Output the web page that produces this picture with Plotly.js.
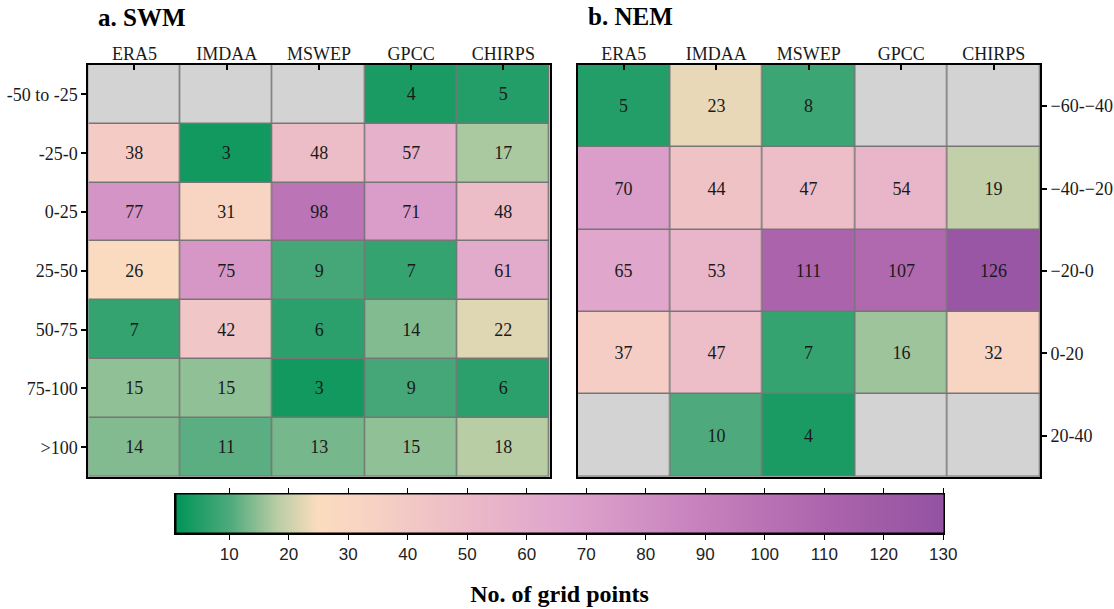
<!DOCTYPE html>
<html>
<head>
<meta charset="utf-8">
<script src="https://cdn.plot.ly/plotly-3.0.1.min.js"></script>
<style>
  html, body { margin: 0; padding: 0; background: #fff; }
  #chart { width: 1114px; height: 609px; }
</style>
</head>
<body>
<div id="chart"></div>
<script>
// Products compared in both panels
const products = ['ERA5', 'IMDAA', 'MSWEP', 'GPCC', 'CHIRPS'];

// a. SWM — bias classes and grid-point counts (null = no grid points)
const swmClasses = ['-50 to -25', '-25-0', '0-25', '25-50', '50-75', '75-100', '>100'];
const swmCounts = [
  [null, null, null, 4, 5],
  [38, 3, 48, 57, 17],
  [77, 31, 98, 71, 48],
  [26, 75, 9, 7, 61],
  [7, 42, 6, 14, 22],
  [15, 15, 3, 9, 6],
  [14, 11, 13, 15, 18]
];

// b. NEM — bias classes and grid-point counts
const nemClasses = ['\u221260-\u221240', '\u221240-\u221220', '\u221220-0', '0-20', '20-40'];
const nemCounts = [
  [5, 23, 8, null, null],
  [70, 44, 47, 54, 19],
  [65, 53, 111, 107, 126],
  [37, 47, 7, 16, 32],
  [null, 10, 4, null, null]
];

// Colour bar ticks
const barTicks = [10, 20, 30, 40, 50, 60, 70, 80, 90, 100, 110, 120, 130];
const barMin = 1, barMax = 130;

const W = 1114, H = 609;
const px = v => v / W;            // horizontal pixel -> paper
const py = v => 1 - v / H;        // vertical pixel -> paper

const serif = 'Liberation Serif, Times New Roman, serif';
const scale = [
  [0.000, 'rgb(0,148,88)'],
  [0.070, 'rgb(78,170,124)'],
  [0.132, 'rgb(185,205,165)'],
  [0.186, 'rgb(252,220,190)'],
  [0.264, 'rgb(246,208,196)'],
  [0.380, 'rgb(235,186,200)'],
  [0.512, 'rgb(222,163,204)'],
  [0.674, 'rgb(200,131,190)'],
  [0.845, 'rgb(172,101,172)'],
  [1.000, 'rgb(148,82,163)']
];

// cells with no grid points are shaded light grey
const missingMask = z => z.map(r => r.map(v => (v === null ? 1 : null)));

function panel(z, rows, xa, ya) {
  return [
    {
      type: 'heatmap', x: products, y: rows, z: missingMask(z),
      xaxis: xa, yaxis: ya, colorscale: [[0, '#d3d3d3'], [1, '#d3d3d3']],
      showscale: false, xgap: 1.5, ygap: 1.5, hoverinfo: 'skip'
    },
    {
      type: 'heatmap', x: products, y: rows, z: z,
      xaxis: xa, yaxis: ya, coloraxis: 'coloraxis',
      xgap: 1.5, ygap: 1.5,
      texttemplate: '%{z}', textfont: { family: serif, size: 18, color: '#1a1a1a' },
      hoverongaps: false
    }
  ];
}

const data = [
  ...panel(swmCounts, swmClasses, 'x', 'y'),
  ...panel(nemCounts, nemClasses, 'x2', 'y2'),
  { type: 'scatter', x: [], y: [], xaxis: 'x3', yaxis: 'y3', showlegend: false, hoverinfo: 'skip' }
];

const catX = (domain, anchor) => ({
  domain, anchor, side: 'top', type: 'category',
  ticks: 'inside', ticklen: 5, tickwidth: 2, tickcolor: '#000',
  ticklabelstandoff: -4,
  showline: true, linewidth: 2, linecolor: '#000', mirror: true,
  showgrid: false, zeroline: false, automargin: false,
  tickfont: { family: serif, size: 18, color: '#1a1a1a' }, fixedrange: true
});
const catY = (domain, anchor, side) => ({
  domain, anchor, side, type: 'category', autorange: 'reversed',
  ticks: 'outside', ticklen: 5, tickwidth: 2, tickcolor: '#000',
  showline: true, linewidth: 2, linecolor: '#000', mirror: true,
  showgrid: false, zeroline: false, automargin: false,
  tickfont: { family: serif, size: 18, color: '#1a1a1a' }, fixedrange: true
});

const gridTop = 65, gridBottom = 476.7;
const bar = { l: 175.7, r: 943.3, t: 494.3, b: 533 };

const layout = {
  width: W, height: H,
  margin: { l: 0, r: 0, t: 0, b: 0, autoexpand: false },
  paper_bgcolor: '#fff', plot_bgcolor: '#767676',
  showlegend: false,
  xaxis: catX([px(88.3), px(549.5)], 'y'),
  yaxis: catY([py(gridBottom), py(gridTop)], 'x', 'left'),
  xaxis2: catX([px(577.5), px(1040)], 'y2'),
  yaxis2: catY([py(gridBottom), py(gridTop)], 'x2', 'right'),
  xaxis3: {
    domain: [px(bar.l), px(bar.r)], anchor: 'y3', range: [barMin, barMax],
    tickvals: barTicks, ticktext: barTicks.map(String),
    ticks: 'outside', ticklen: 5, tickwidth: 1, tickcolor: '#000',
    showline: true, linewidth: 1.5, linecolor: '#000', mirror: 'ticks',
    showgrid: false, zeroline: false, automargin: false, fixedrange: true,
    tickfont: { family: 'Liberation Sans, Arial, sans-serif', size: 17, color: '#222' },
    title: { text: '<b>No. of grid points</b>', standoff: 22,
             font: { family: serif, size: 24, color: '#000' } }
  },
  yaxis3: {
    domain: [py(bar.b), py(bar.t)], anchor: 'x3', range: [0, 1],
    showline: true, linewidth: 1.5, linecolor: '#000', mirror: true,
    ticks: '', showticklabels: false, showgrid: false, zeroline: false,
    automargin: false, fixedrange: true
  },
  coloraxis: {
    cmin: barMin, cmax: barMax, colorscale: scale,
    colorbar: {
      orientation: 'h',
      thicknessmode: 'pixels', thickness: bar.b - bar.t,
      lenmode: 'pixels', len: bar.r - bar.l,
      x: px((bar.l + bar.r) / 2), xanchor: 'center',
      y: py(bar.t), yanchor: 'top',
      xpad: 0, ypad: 0,
      outlinewidth: 1, outlinecolor: '#000',
      ticks: '', showticklabels: false
    }
  },
  annotations: [
    { text: '<b>a. SWM</b>', xref: 'paper', yref: 'paper', x: px(96), y: py(2),
      xanchor: 'left', yanchor: 'top', showarrow: false,
      font: { family: serif, size: 25, color: '#000' } },
    { text: '<b>b. NEM</b>', xref: 'paper', yref: 'paper', x: px(586), y: py(1),
      xanchor: 'left', yanchor: 'top', showarrow: false,
      font: { family: serif, size: 25, color: '#000' } }
  ]
};

Plotly.newPlot('chart', data, layout, { displayModeBar: false, staticPlot: true });
</script>
</body>
</html>
